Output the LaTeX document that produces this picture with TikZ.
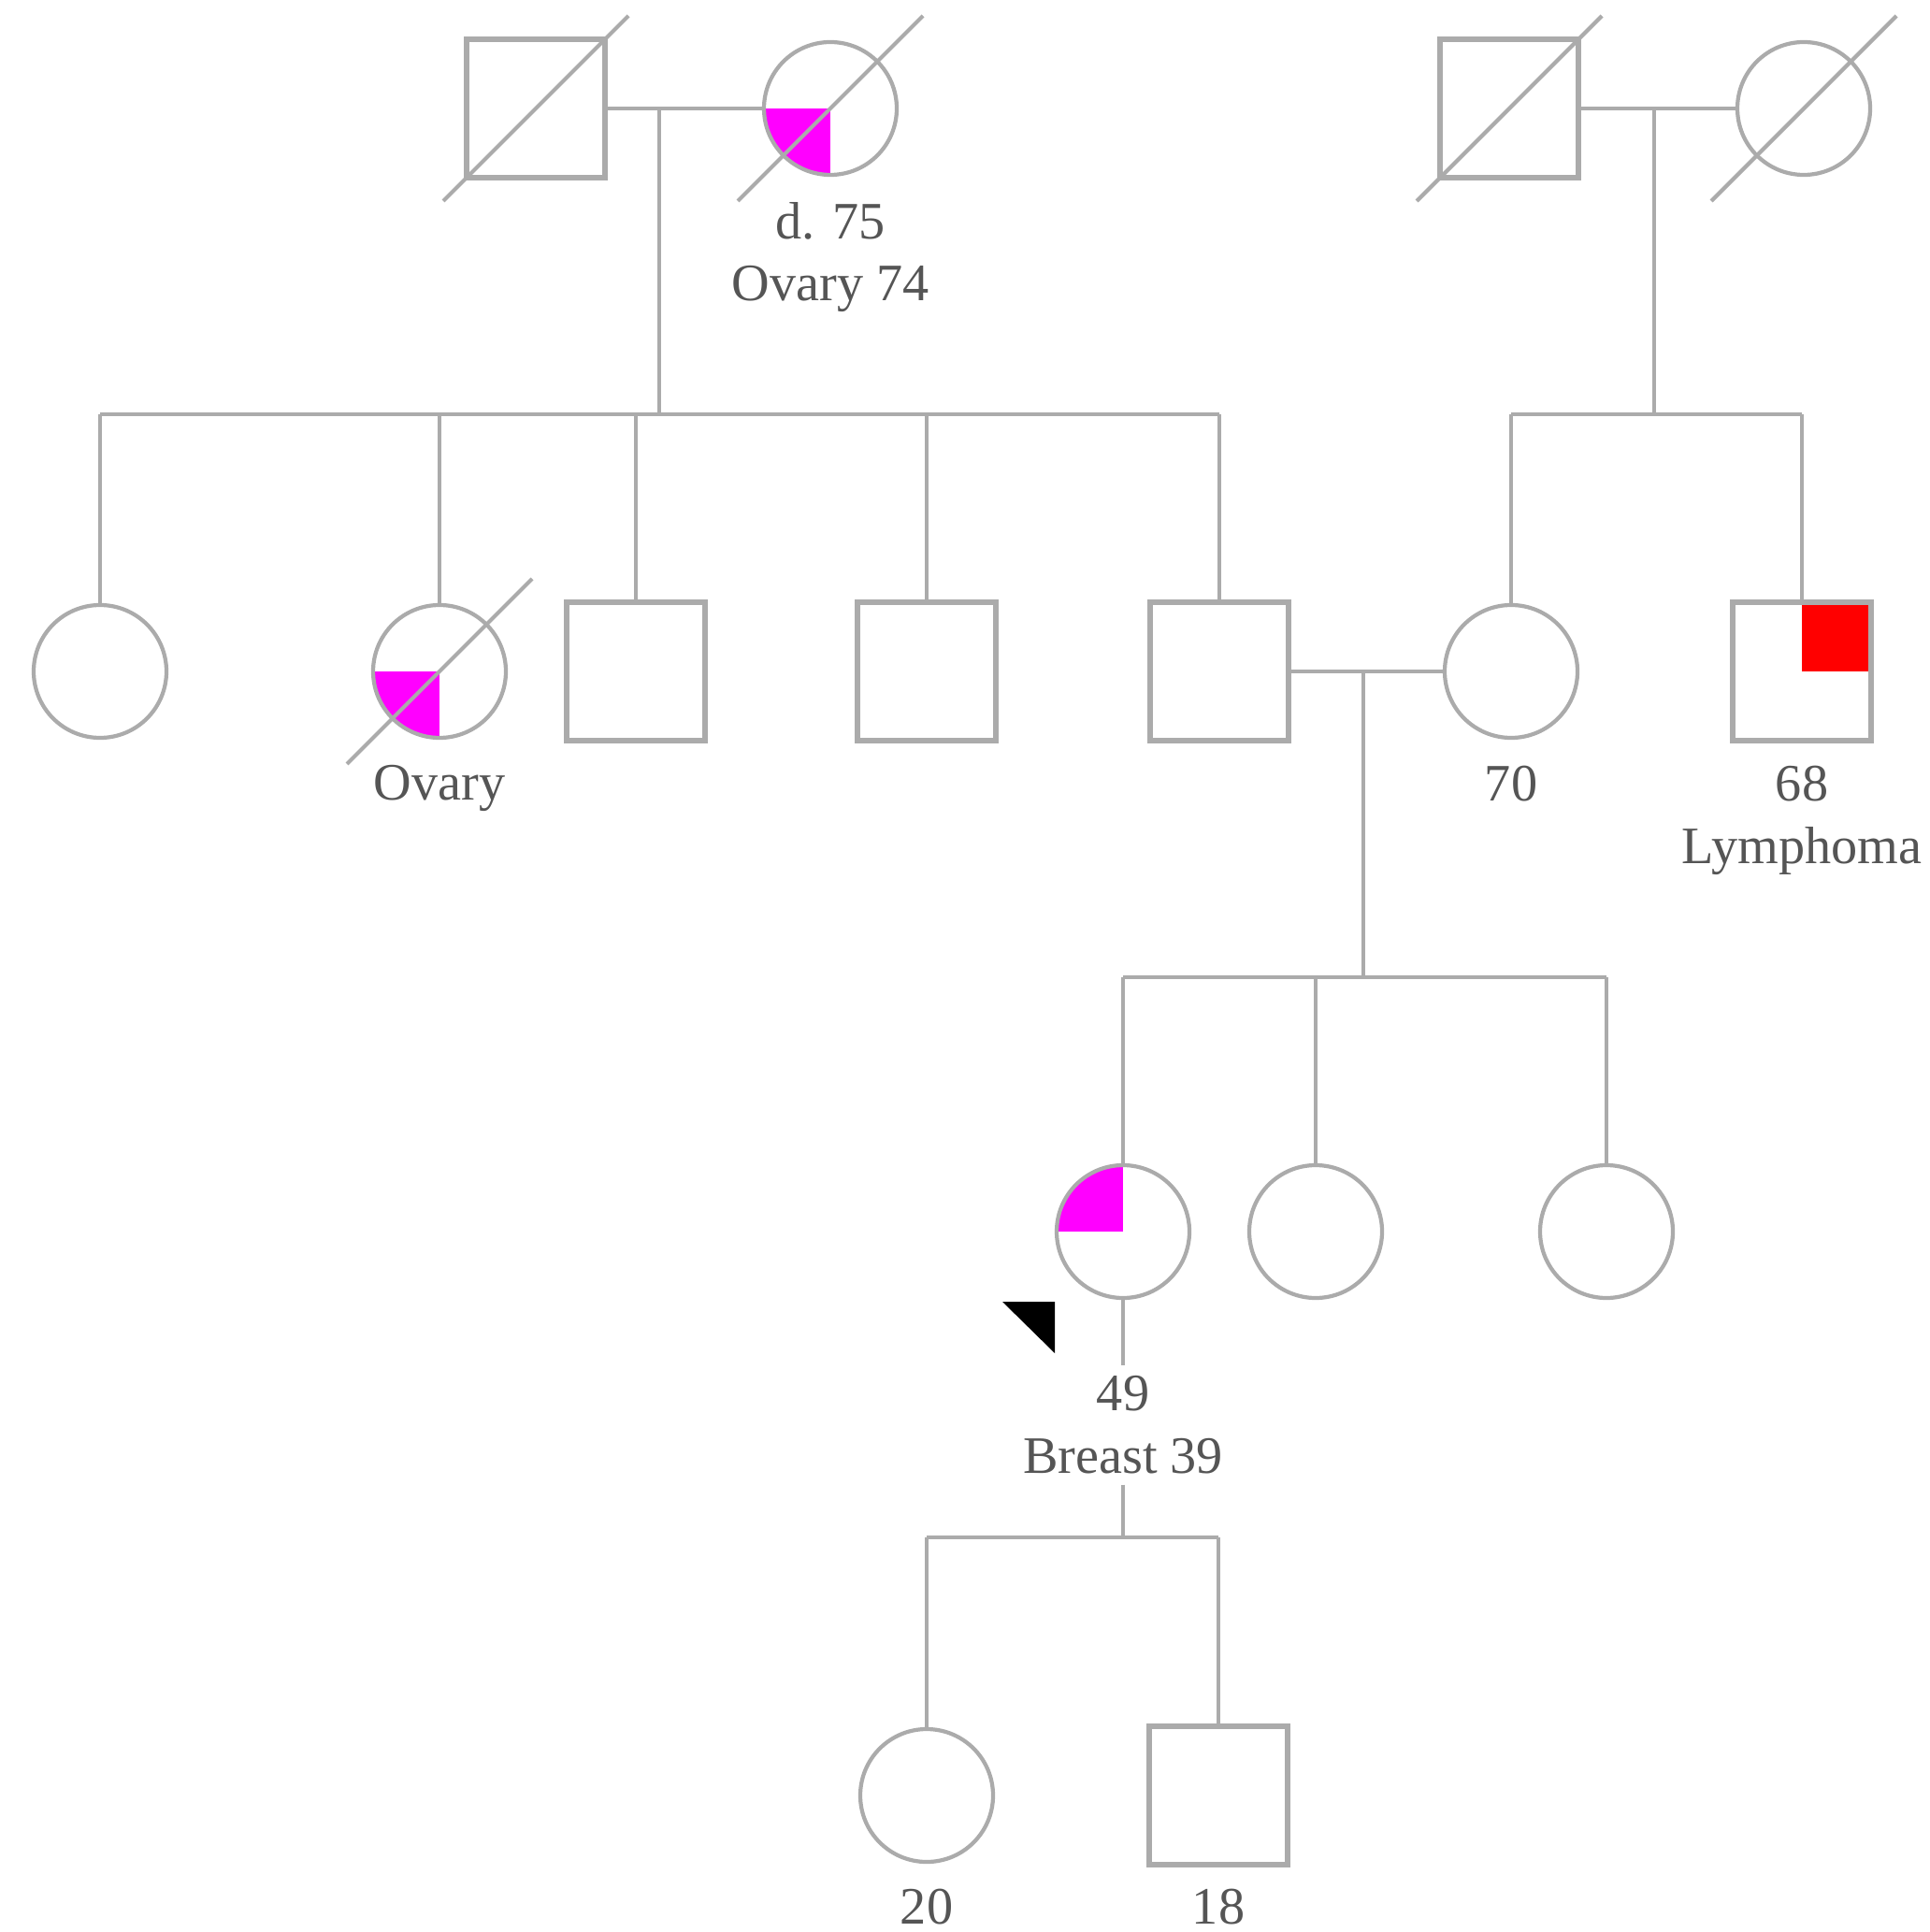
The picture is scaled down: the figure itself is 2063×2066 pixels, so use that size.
\documentclass[tikz,border=0pt]{standalone}
\usepackage{fontspec}
\setmainfont{Liberation Serif}
\usepackage{xcolor}
\definecolor{linegray}{HTML}{ABABAB}
\definecolor{txtgray}{HTML}{555555}
\definecolor{affpink}{HTML}{FF00FF}
\definecolor{affred}{HTML}{FF0000}

\tikzset{
  male/.style={rectangle,draw=linegray,line width=1.7pt,minimum size=1.48cm,inner sep=0pt},
  female/.style={circle,draw=linegray,line width=1.2pt,minimum size=1.42cm,inner sep=0pt},
  rel/.style={draw=linegray,line width=1.2pt},
  lbl/.style={text=txtgray,font=\fontsize{16}{19}\selectfont,align=center,inner sep=0pt},
  lowleft/.style={path picture={\fill[#1] (path picture bounding box.center) rectangle (path picture bounding box.south west);}},
  upleft/.style={path picture={\fill[#1] (path picture bounding box.center) rectangle (path picture bounding box.north west);}},
  upright/.style={path picture={\fill[#1] (path picture bounding box.center) rectangle (path picture bounding box.north east);}}
}

\begin{document}
\begin{tikzpicture}[x=0.1mm,y=-0.1mm]
                \useasboundingbox (0,0) rectangle (2063,2066);
                % generation I
                \node[male] (gfa) at (573,116) {};
                \node[female,lowleft=affpink] (gma) at (888,116) {};
                \node[male] (gfb) at (1614,116) {};
                \node[female] (gmb) at (1929,116) {};
                \node[lbl] (gmalbl) at (888,275) {d. 75\\Ovary 74};
                % generation II
                \node[female] (aunta) at (107,718) {};
                \node[female,lowleft=affpink] (auntb) at (470,718) {};
                \node[male] (uncla) at (680,718) {};
                \node[male] (unclb) at (991,718) {};
                \node[male] (father) at (1304,718) {};
                \node[female] (mother) at (1616,718) {};
                \node[male,upright=affred] (unclc) at (1927,718) {};
                \node[lbl] (auntblbl) at (470,843) {Ovary};
                \node[lbl] (motherlbl) at (1616,838) {70};
                \node[lbl] (unclclbl) at (1927,877) {68\\Lymphoma};
                % generation III
                \node[female,upleft=affpink] (prob) at (1201,1317) {};
                \node[female] (sisa) at (1407,1317) {};
                \node[female] (sisb) at (1718,1317) {};
                \node[lbl,inner sep=3pt] (problbl) at (1201,1524) {49\\Breast 39};
                % generation IV
                \node[female] (dau) at (991,1920) {};
                \node[male] (son) at (1303,1920) {};
                \node[lbl] (daulbl) at (991,2039) {20};
                \node[lbl] (sonlbl) at (1303,2039) {18};

                \coordinate (mara) at (705,116);
                \coordinate (sibsa) at (705,443);
                \coordinate (marb) at (1769,116);
                \coordinate (sibsb) at (1769,443);
                \coordinate (marc) at (1458,718);
                \coordinate (sibsc) at (1458,1045);
                \coordinate (sibsd) at (1201,1644);

                \draw[rel] (gfa.east) -- (gma.west);
                \draw[rel] (mara) -- (sibsa);
                \draw[rel] (aunta.north |- sibsa) -- (father.north |- sibsa);
                \foreach \c in {aunta,auntb,uncla,unclb,father}
                    \draw[rel] (\c.north |- sibsa) -- (\c.north);

                \draw[rel] (gfb.east) -- (gmb.west);
                \draw[rel] (marb) -- (sibsb);
                \draw[rel] (mother.north |- sibsb) -- (unclc.north |- sibsb);
                \foreach \c in {mother,unclc}
                    \draw[rel] (\c.north |- sibsb) -- (\c.north);

                \draw[rel] (father.east) -- (mother.west);
                \draw[rel] (marc) -- (sibsc);
                \draw[rel] (prob.north |- sibsc) -- (sisb.north |- sibsc);
                \foreach \c in {prob,sisa,sisb}
                    \draw[rel] (\c.north |- sibsc) -- (\c.north);

                \draw[rel] (prob.south) -- (problbl.north);
                \draw[rel] (problbl.south) -- (sibsd);
                \draw[rel] (dau.north |- sibsd) -- (son.north |- sibsd);
                \foreach \c in {dau,son}
                    \draw[rel] (\c.north |- sibsd) -- (\c.north);

                % deceased
                \foreach \c in {gfa,gma,gfb,gmb,auntb}
                    \draw[rel] (\c.center) ++(-99,99) -- ++(198,-198);

                % proband arrow
                \fill (1072,1392) -- (1128,1392) -- (1128,1447) -- cycle;
            \end{tikzpicture}
\end{document}
